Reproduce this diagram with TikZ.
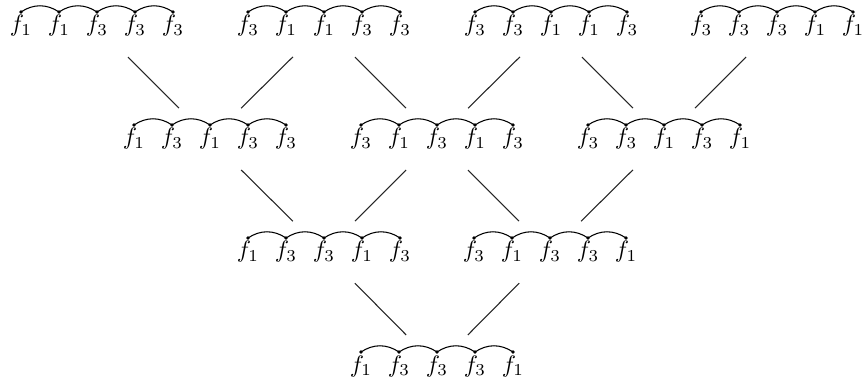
\documentclass[tikz,border=0pt]{standalone}
\usepackage{tikz}
\usetikzlibrary{calc}
\tikzstyle{lab} = [inner sep=0pt, anchor=base]
\tikzstyle{link} = [line width=0.45pt, bend left=34]
\tikzstyle{branch} = [line width=0.45pt, draw=black!85, shorten <=18.4pt, shorten >=18.4pt]
\tikzset{
  chain/.pic={
    \foreach \s [count=\i] in {#1} {
      \node[lab] (-f\i) at ({(\i-3)*38},20) {$f_{\s}$};
      \coordinate (-d\i) at ({(\i-3)*38},0);
      \fill (-d\i) circle[radius=0.8pt];
    }
    \foreach \i [remember=\i as \j (initially 1)] in {2,...,5}
      \draw[link] (-d\j) to (-d\i);
  }
}

\begin{document}
\begin{tikzpicture}[x=0.42pt, y=-0.42pt]
\useasboundingbox (0,0) rectangle (864,380);

% Top row
\pic (t1) at (97,12) {chain={1,1,3,3,3}};
\pic (t2) at (324,12) {chain={3,1,1,3,3}};
\pic (t3) at (551,12) {chain={3,3,1,1,3}};
\pic (t4) at (777,12) {chain={3,3,3,1,1}};

% Second row
\pic (m1) at (210,125) {chain={1,3,1,3,3}};
\pic (m2) at (437,125) {chain={3,1,3,1,3}};
\pic (m3) at (664,125) {chain={3,3,1,3,1}};

% Third row
\pic (b1) at (324,238) {chain={1,3,3,1,3}};
\pic (b2) at (550,238) {chain={3,1,3,3,1}};

% Bottom
\pic (r) at (437,352) {chain={1,3,3,3,1}};

% Connections
\draw [branch] (t1-f3.center) -- (m1-f3.center);
\draw [branch] (t2-f3.center) -- (m1-f3.center);
\draw [branch] (t2-f3.center) -- (m2-f3.center);
\draw [branch] (t3-f3.center) -- (m2-f3.center);
\draw [branch] (t3-f3.center) -- (m3-f3.center);
\draw [branch] (t4-f3.center) -- (m3-f3.center);

\draw [branch] (m1-f3.center) -- (b1-f3.center);
\draw [branch] (m2-f3.center) -- (b1-f3.center);
\draw [branch] (m2-f3.center) -- (b2-f3.center);
\draw [branch] (m3-f3.center) -- (b2-f3.center);

\draw [branch] (b1-f3.center) -- (r-f3.center);
\draw [branch] (b2-f3.center) -- (r-f3.center);

\end{tikzpicture}
\end{document}
